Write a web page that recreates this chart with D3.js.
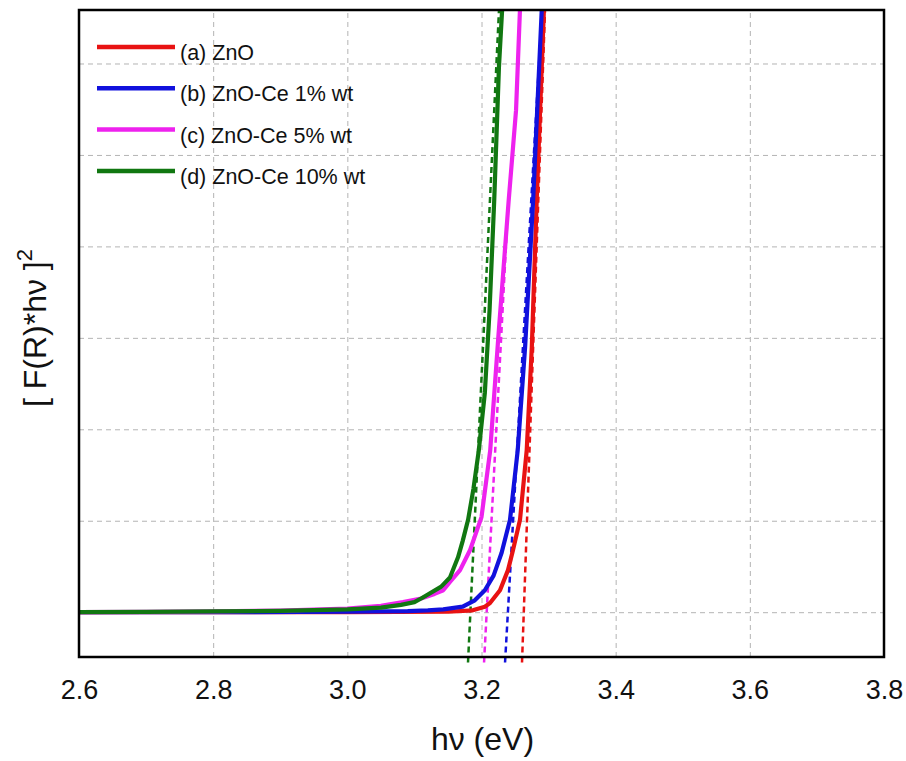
<!DOCTYPE html>
<html>
<head>
<meta charset="utf-8">
<script src="https://cdn.jsdelivr.net/npm/d3@7"></script>
<style>
  body { margin: 0; background: #fff; }
  text { font-family: "Liberation Sans", Arial, sans-serif; }
</style>
</head>
<body>
<div id="chart"></div>
<script>
// Tauc plot data (y in arbitrary units, gridline = 1 unit)
var xTicks = [2.6, 2.8, 3.0, 3.2, 3.4, 3.6, 3.8];
var yGrid = [0, 1, 2, 3, 4, 5, 6];

var seriesNames = ["(a) ZnO", "(b) ZnO-Ce 1% wt", "(c) ZnO-Ce 5% wt", "(d) ZnO-Ce 10% wt"];
var seriesColors = ["#e81212", "#1111dd", "#ee22ee", "#117711"];

var znoX  = [2.60, 3.00, 3.15, 3.187, 3.205, 3.2127, 3.2276, 3.2395, 3.247, 3.2574, 3.2674, 3.275, 3.2823, 3.2932];
var znoY  = [0, 0, 0.005, 0.02, 0.06, 0.10, 0.24, 0.46, 0.68, 1.01, 1.77, 2.9, 4.51, 6.62];

var ce1X  = [2.60, 2.80, 3.00, 3.09, 3.12, 3.143, 3.172, 3.19, 3.205, 3.218, 3.23, 3.2425, 3.254, 3.265, 3.277, 3.290];
var ce1Y  = [0, 0, 0.005, 0.012, 0.02, 0.03, 0.06, 0.13, 0.24, 0.40, 0.65, 1.01, 1.77, 2.9, 4.51, 6.62];

var ce5X  = [2.60, 2.70, 2.80, 2.90, 3.00, 3.05, 3.083, 3.11, 3.13, 3.143, 3.153, 3.168, 3.183, 3.20, 3.213, 3.225, 3.2406, 3.2515, 3.2575];
var ce5Y  = [0, 0.003, 0.008, 0.018, 0.04, 0.07, 0.11, 0.15, 0.20, 0.24, 0.33, 0.46, 0.68, 1.04, 1.77, 3.0, 4.51, 5.49, 6.62];

var ce10X = [2.60, 2.70, 2.80, 2.90, 3.00, 3.05, 3.08, 3.10, 3.11, 3.14, 3.153, 3.165, 3.172, 3.180, 3.188, 3.196, 3.205, 3.212, 3.219, 3.226, 3.231];
var ce10Y = [0, 0.003, 0.008, 0.015, 0.03, 0.05, 0.08, 0.11, 0.15, 0.28, 0.38, 0.60, 0.78, 1.01, 1.35, 1.77, 2.40, 3.30, 4.51, 5.96, 6.62];

// tangent (band gap) lines: start and end points
var tangentX0 = [3.2604, 3.2351, 3.2038, 3.1799];
var tangentX1 = [3.2947, 3.2903, 3.2401, 3.2261];
var tangentY0 = [-0.55, -0.55, -0.55, -0.55];
var tangentY1 = [6.59, 6.59, 4.51, 6.59];

var seriesX = [znoX, ce1X, ce5X, ce10X];
var seriesY = [znoY, ce1Y, ce5Y, ce10Y];

var margin = {top: 10, right: 22, bottom: 104, left: 79},
    width = 906 - margin.left - margin.right,
    height = 761 - margin.top - margin.bottom;

var svg = d3.select("#chart").append("svg")
    .attr("width", 906)
    .attr("height", 761)
  .append("g")
    .attr("transform", "translate(" + margin.left + "," + margin.top + ")");

var x = d3.scaleLinear().domain([2.6, 3.8]).range([0, width]);
var y = d3.scaleLinear().domain([-0.49, 6.585]).range([height, 0]);

// grid
svg.append("g")
    .attr("class", "grid")
    .attr("transform", "translate(0," + height + ")")
    .call(d3.axisBottom(x).tickValues(xTicks.slice(1, -1)).tickSize(-height).tickFormat(""))
    .call(g => g.select(".domain").remove());
svg.append("g")
    .attr("class", "grid")
    .call(d3.axisLeft(y).tickValues(yGrid).tickSize(-width).tickFormat(""))
    .call(g => g.select(".domain").remove());
svg.selectAll(".grid line")
    .attr("stroke", "#b4b4b4")
    .attr("stroke-width", 1)
    .attr("stroke-dasharray", "5,4");

// tangent lines
svg.selectAll(".tangent")
    .data(seriesNames)
  .enter().append("line")
    .attr("class", "tangent")
    .attr("x1", (d, i) => x(tangentX0[i]))
    .attr("y1", (d, i) => y(tangentY0[i]))
    .attr("x2", (d, i) => x(tangentX1[i]))
    .attr("y2", (d, i) => y(tangentY1[i]))
    .attr("stroke", (d, i) => seriesColors[i])
    .attr("stroke-width", 2.5)
    .attr("stroke-dasharray", "6,4");

// curves
var line = d3.line()
    .x(d => x(d[0]))
    .y(d => y(d[1]));

svg.append("defs").append("clipPath")
    .attr("id", "clip")
  .append("rect")
    .attr("width", width)
    .attr("height", height);

svg.selectAll(".curve")
    .data(seriesNames)
  .enter().append("path")
    .attr("class", "curve")
    .attr("clip-path", "url(#clip)")
    .attr("d", (d, i) => line(d3.zip(seriesX[i], seriesY[i])))
    .attr("fill", "none")
    .attr("stroke", (d, i) => seriesColors[i])
    .attr("stroke-width", 4.2)
    .attr("stroke-linejoin", "round");

// frame
svg.append("rect")
    .attr("width", width)
    .attr("height", height)
    .attr("fill", "none")
    .attr("stroke", "#000")
    .attr("stroke-width", 2.5);

// x axis labels
svg.append("g")
    .attr("transform", "translate(0," + height + ")")
    .call(d3.axisBottom(x).tickValues(xTicks).tickSize(0).tickPadding(23).tickFormat(d3.format(".1f")))
    .call(g => g.select(".domain").remove())
    .selectAll("text")
    .style("font-size", "27px")
    .attr("fill", "#111");

svg.append("text")
    .attr("x", width / 2 + 1)
    .attr("y", height + 93)
    .style("text-anchor", "middle")
    .style("font-size", "32px")
    .attr("fill", "#111")
    .text("h\u03bd (eV)");

// y label
var ylab = svg.append("text")
    .attr("transform", "translate(" + (46 - margin.left) + "," + (328 - margin.top) + ") rotate(-90)")
    .style("text-anchor", "middle")
    .style("font-size", "32px")
    .attr("fill", "#111");
ylab.append("tspan").text("[ F(R)*h\u03bd ]");
ylab.append("tspan").attr("dy", -14).style("font-size", "22px").text("2");

// legend
var legend = svg.selectAll(".legend")
    .data(seriesNames)
  .enter().append("g")
    .attr("class", "legend")
    .attr("transform", (d, i) => "translate(18," + (37 + i * 41.3) + ")");
legend.append("line")
    .attr("x1", 0).attr("x2", 78)
    .attr("stroke", (d, i) => seriesColors[i])
    .attr("stroke-width", 4.5);
legend.append("text")
    .attr("x", 83)
    .attr("y", 13)
    .style("font-size", "21.5px")
    .attr("fill", "#111")
    .text(d => d);
</script>
</body>
</html>
